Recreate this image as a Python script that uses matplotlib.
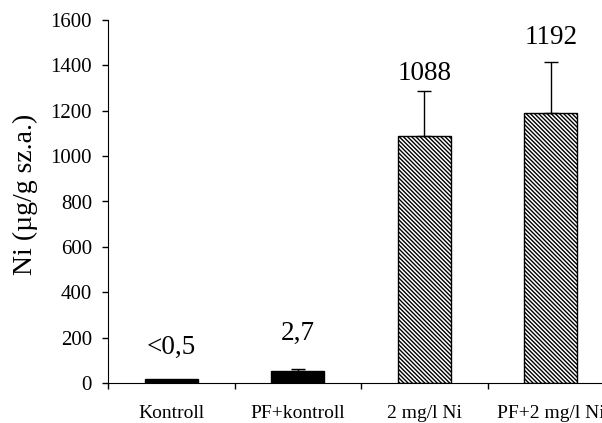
import numpy as np
import matplotlib.pyplot as plt
from matplotlib.ticker import FixedLocator, NullFormatter

plt.rcParams['font.family'] = ['Liberation Serif', 'DejaVu Serif']
plt.rcParams['hatch.linewidth'] = 1.0

# data
categories = ['Kontroll', 'PF+kontroll', '2 mg/l Ni', 'PF+2 mg/l Ni']
values = [16, 52, 1088, 1192]
errors = [0, 10, 200, 222]
labels = ['<0,5', '2,7', '1088', '1192']
label_y = [159, 220, 1366, 1525]

fig = plt.figure(figsize=(6.02, 4.23), dpi=100)
# axis runs past the right edge of the picture, as in the original
ax = fig.add_axes([108 / 602, 40 / 423, 506 / 602, 363 / 423])

x = np.arange(len(categories))
for i in range(len(categories)):
    if i < 2:
        ax.bar(x[i], values[i], width=0.42, color='black', edgecolor='black')
    else:
        ax.bar(x[i], values[i], width=0.42, color='white', edgecolor='black',
               hatch='\\' * 8, linewidth=1.0)
    if errors[i] > 0:
        ax.errorbar(x[i], values[i], yerr=[[0], [errors[i]]], fmt='none',
                    ecolor='black', elinewidth=1, capsize=5, capthick=1)

# value labels above the bars
for i in range(len(categories)):
    ax.text(x[i], label_y[i], labels[i], ha='center', va='center', fontsize=19.5)

ax.set_xlim(-0.5, 3.5)
ax.set_ylim(0, 1600)
ax.set_yticks(np.arange(0, 1601, 200))
ax.tick_params(axis='y', labelsize=15, direction='out', length=4.5, width=1, pad=7)

ax.set_xticks(x)
ax.set_xticklabels(categories, fontsize=14)
ax.tick_params(axis='x', which='major', length=0, pad=16)
ax.xaxis.set_minor_locator(FixedLocator([-0.5, 0.5, 1.5, 2.5, 3.5]))
ax.xaxis.set_minor_formatter(NullFormatter())
ax.tick_params(axis='x', which='minor', direction='out', length=4.5, width=1)

ax.set_ylabel('Ni (µg/g sz.a.)', fontsize=20)
ax.yaxis.set_label_coords(-0.138, 0.52)
ax.spines['top'].set_visible(False)
ax.spines['right'].set_visible(False)

fig.savefig('out.png', dpi=100)
